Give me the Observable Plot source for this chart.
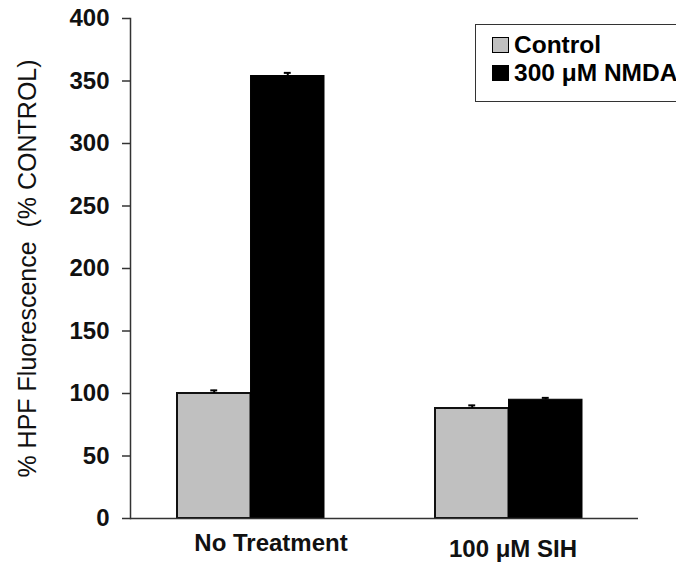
<!DOCTYPE html>
<html>
<head>
<meta charset="utf-8">
<script src="https://cdn.jsdelivr.net/npm/d3@7"></script>
<script src="https://cdn.jsdelivr.net/npm/@observablehq/plot@0.6"></script>
<style>
  html, body { margin: 0; padding: 0; background: #fff; overflow: hidden; }
  #wrap { position: relative; width: 676px; height: 563px; font-family: "Liberation Sans", Arial, sans-serif; }
  #legend { position: absolute; left: 475px; top: 24px; width: 240px; height: 78px; border: 1.5px solid #333; box-sizing: border-box; background: #fff; }
  .item { position: absolute; left: 16px; display: flex; align-items: center; font-weight: bold; font-size: 24.5px; color: #000; white-space: nowrap; line-height: 1; }
  .sw { width: 17px; height: 16px; border: 1.5px solid #000; margin-right: 5px; box-sizing: border-box; }
</style>
</head>
<body>
<div id="wrap"></div>
<script>
const groups = ["No Treatment", "100 μM SIH"];
const seriesNames = ["Control", "300 μM NMDA"];
const controlValues = [100, 88];
const nmdaValues = [354, 95];
const controlErrors = [2.5, 2.5];
const nmdaErrors = [2.5, 1.5];
const yTicks = [0, 50, 100, 150, 200, 250, 300, 350, 400];
const seriesColors = ["#c0c0c0", "#000000"];

const controlRows = groups.map((g, i) => ({group: g, series: seriesNames[0], value: controlValues[i], err: controlErrors[i]}));
const nmdaRows = groups.map((g, i) => ({group: g, series: seriesNames[1], value: nmdaValues[i], err: nmdaErrors[i]}));

const W = 676, H = 563;
const mL = 130, mR = 38, mT = 18, mB = 45;
const xOpts = {type: "band", domain: groups, paddingInner: 0.432, paddingOuter: 0.197, align: 0.45};
const xs = Plot.scale({x: {...xOpts, range: [mL, W - mR]}});
const bw = xs.bandwidth;
const half = bw / 2;
const capW = 7;

const font = "Liberation Sans, Arial, sans-serif";

const chart = Plot.plot({
  width: W,
  height: H,
  marginLeft: mL,
  marginRight: mR,
  marginTop: mT,
  marginBottom: mB,
  style: {fontFamily: font, color: "#000", background: "#fff"},
  x: {...xOpts, axis: null},
  y: {domain: [0, 400], axis: null},
  marks: [
    Plot.barY(controlRows, {x: "group", y: "value", fill: seriesColors[0], stroke: "#111", strokeWidth: 2, insetLeft: 0, insetRight: half}),
    Plot.barY(nmdaRows, {x: "group", y: "value", fill: seriesColors[1], stroke: "#000", strokeWidth: 1, insetLeft: half, insetRight: 0}),
    Plot.ruleX(controlRows, {x: "group", y1: "value", y2: d => d.value + d.err, dx: -half / 2, stroke: "#000", strokeWidth: 2}),
    Plot.ruleX(nmdaRows, {x: "group", y1: "value", y2: d => d.value + d.err, dx: half / 2, stroke: "#000", strokeWidth: 2}),
    Plot.tickY(controlRows, {x: "group", y: d => d.value + d.err, insetLeft: half / 2 - capW / 2, insetRight: bw - half / 2 - capW / 2, stroke: "#000", strokeWidth: 2}),
    Plot.tickY(nmdaRows, {x: "group", y: d => d.value + d.err, insetLeft: bw - half / 2 - capW / 2, insetRight: half / 2 - capW / 2, stroke: "#000", strokeWidth: 2}),
    Plot.ruleY([0], {stroke: "#333", strokeWidth: 1.5}),
    Plot.frame({anchor: "left", stroke: "#333", strokeWidth: 1.5}),
    Plot.axisY({ticks: yTicks, tickSize: 8, tickPadding: 13, stroke: "#333", strokeWidth: 1.5, fontSize: 24, fontWeight: "bold", fill: "#111",
      label: "% HPF Fluorescence  (% CONTROL)", labelAnchor: "center", labelOffset: 112, labelArrow: "none"}),
    Plot.text([groups[0]], {x: d => d, text: d => d, frameAnchor: "bottom", dy: 32, dx: 20, fontSize: 24, fontWeight: "bold", fill: "#111"}),
    Plot.text([groups[1]], {x: d => d, text: d => d, frameAnchor: "bottom", dy: 38, dx: 4, fontSize: 24, fontWeight: "bold", fill: "#111"})
  ]
});

const wrap = document.getElementById("wrap");
wrap.appendChild(chart);

// style the y-axis label as regular weight
chart.querySelectorAll("text").forEach(t => {
  if (t.textContent.includes("HPF")) { t.setAttribute("font-weight", "normal"); t.style.fontWeight = "normal"; t.setAttribute("font-size", 25); }
});

const legend = document.createElement("div");
legend.id = "legend";
seriesNames.forEach((name, i) => {
  const item = document.createElement("div");
  item.className = "item";
  item.style.top = (i === 0 ? 8 : 36) + "px";
  const sw = document.createElement("span");
  sw.className = "sw";
  sw.style.background = seriesColors[i];
  const label = document.createElement("span");
  label.textContent = name;
  item.appendChild(sw);
  item.appendChild(label);
  legend.appendChild(item);
});
wrap.appendChild(legend);
</script>
</body>
</html>
